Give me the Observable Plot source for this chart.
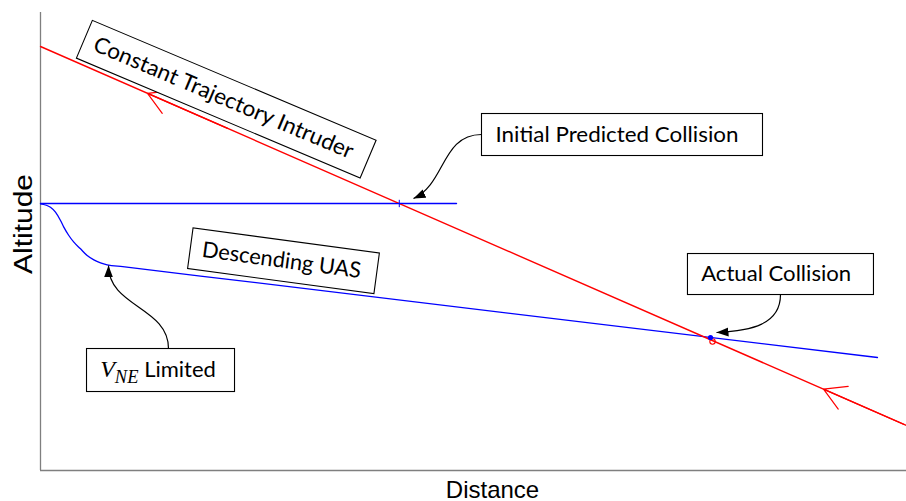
<!DOCTYPE html>
<html><head><meta charset="utf-8">
<script src="https://cdn.jsdelivr.net/npm/d3@7"></script>
<script src="https://cdn.jsdelivr.net/npm/@observablehq/plot@0.6"></script>
<style>html,body{margin:0;padding:0;background:#fff;} svg{display:block;}</style>
</head><body><div id="chart"></div>
<script>
// ---- data (x: distance 0..100, y: altitude 0..100, arbitrary units) ----
const intruderPath = [{x: 0, y: 92.58}, {x: 100, y: 9.83}];
const plannedPath = [{x: 0, y: 58.30}, {x: 48.04, y: 58.30}];
const descentPath = [
  {x: 0, y: 58.23}, {x: 1.15, y: 57.49}, {x: 1.73, y: 56.40}, {x: 2.31, y: 54.59},
  {x: 2.69, y: 53.13}, {x: 3.27, y: 51.31}, {x: 3.85, y: 49.85}, {x: 4.62, y: 48.40},
  {x: 5.39, y: 46.94}, {x: 6.16, y: 46.00}, {x: 6.93, y: 45.35}, {x: 7.70, y: 44.91},
  {x: 9.50, y: 44.50}, {x: 18.48, y: 42.46}, {x: 96.65, y: 24.67}
];
const initialCollision = [{x: 41.43, y: 58.30}];
const actualCollisionUAS = [{x: 77.37, y: 29.04}];
const actualCollisionIntruder = [{x: 77.60, y: 28.17}];
const chevronTipsX = [12.36, 90.42];
const labelTexts = ["Constant Trajectory Intruder", "Initial Predicted Collision", "Descending UAS", "VNE Limited", "Actual Collision"];
const axisLabelX = ["Distance"];
const axisLabelY = ["Altitude"];

// ---- layout for the annotations ----
const annotationLayout = [
  {x: 21.13, y: 81.33, rotate: 22.9, w: 308, h: 41, dx: 3, len: 280},
  {x: 66.57, y: 73.36, rotate: 0, w: 281, h: 42, dx: 5, len: 243},
  {x: 27.83, y: 45.85, rotate: 7.65, w: 188, h: 41, dx: 2, len: 160},
  {x: 13.57, y: 21.94, rotate: 0, w: 148, h: 43, dx: 2.5, len: null},
  {x: 84.95, y: 42.90, rotate: 0, w: 186, h: 41, dx: 4.3, len: 150}
];
const annotations = labelTexts.map((text, i) => ({text, ...annotationLayout[i]}));
const connectors = [
  {x1: 50.92, y1: 73.36, x2: 43.07, y2: 59.39, d0: [-1, 0], h0: 40, d1: [-0.9, 0.4], h1: 35},
  {x1: 14.78, y1: 26.64, x2: 7.85, y2: 44.76, d0: [0, -1], h0: 41.5, d1: [0, -1], h1: 41.5},
  {x1: 85.45, y1: 38.43, x2: 78.06, y2: 30.13, d0: [0, 1], h0: 30, d1: [-1, 0.05], h1: 35}
];

function yOnIntruder(x) {
  const [a, b] = intruderPath;
  return a.y + (b.y - a.y) * (x - a.x) / (b.x - a.x);
}
const chevrons = chevronTipsX.map(x => ({x1: x + 9.24, y1: yOnIntruder(x + 9.24), x2: x, y2: yOnIntruder(x)}));

function norm(v) { const l = Math.hypot(v[0], v[1]); return [v[0] / l, v[1] / l]; }
function connectorCurve(c) {
  const n0 = norm(c.d0), n1 = norm(c.d1);
  return (context) => {
    let pts = [];
    return {
      areaStart() {}, areaEnd() {},
      lineStart() { pts = []; },
      point(x, y) { pts.push([+x, +y]); },
      lineEnd() {
        const a = pts[0], b = pts[pts.length - 1];
        context.moveTo(a[0], a[1]);
        context.bezierCurveTo(a[0] + n0[0] * c.h0, a[1] + n0[1] * c.h0,
                              b[0] - n1[0] * c.h1, b[1] - n1[1] * c.h1, b[0], b[1]);
      }
    };
  };
}

const RED = "#ff0000", BLUE = "#0000ff";
const svg = Plot.plot({
  width: 906, height: 501,
  marginLeft: 40, marginRight: 0, marginTop: 12, marginBottom: 31,
  x: {domain: [0, 100], axis: null},
  y: {domain: [0, 100], axis: null},
  style: {background: "#fff", overflow: "visible"},
  marks: [
    Plot.ruleX([0], {stroke: "#7f7f7f", strokeWidth: 1.3}),
    Plot.ruleY([0], {stroke: "#7f7f7f", strokeWidth: 1.3}),
    Plot.line(plannedPath, {x: "x", y: "y", stroke: BLUE, strokeWidth: 1.3}),
    Plot.line(descentPath, {x: "x", y: "y", stroke: BLUE, strokeWidth: 1.3, curve: "monotone-x"}),
    Plot.line(intruderPath, {x: "x", y: "y", stroke: RED, strokeWidth: 1.4}),
    Plot.arrow(chevrons, {x1: "x1", y1: "y1", x2: "x2", y2: "y2", stroke: RED, strokeWidth: 1.2, headLength: 31, headAngle: 60}),
    Plot.dot(initialCollision, {x: "x", y: "y", symbol: "plus", r: 2.5, stroke: BLUE, strokeWidth: 1}),
    Plot.dot(actualCollisionIntruder, {x: "x", y: "y", r: 2.7, stroke: RED, fill: "none", strokeWidth: 1.1}),
    Plot.dot(actualCollisionUAS, {x: "x", y: "y", r: 2.6, fill: BLUE}),
    ...connectors.map(c => Plot.link([c], {x1: "x1", y1: "y1", x2: "x2", y2: "y2", curve: connectorCurve(c), stroke: "#000", strokeWidth: 1.2})),
    Plot.text(annotations, {x: "x", y: "y", text: "text", rotate: "rotate", fontSize: 22, fontFamily: "Lato", fill: "#000", textAnchor: "middle", lineAnchor: "middle"}),
    Plot.text(axisLabelY, {text: d => d, frameAnchor: "left", rotate: -90, dx: -16.5, dy: -17.5, fontSize: 25, fontFamily: "Liberation Sans, Arial", textAnchor: "middle", lineAnchor: "middle", fill: "#000"}),
    Plot.text(axisLabelX, {text: d => d, frameAnchor: "bottom", dx: 19, dy: 10.5, fontSize: 24, fontFamily: "Liberation Sans, Arial", textAnchor: "middle", lineAnchor: "top", fill: "#000"})
  ]
});
document.getElementById("chart").append(svg);

// ---- decorate annotations: boxes, arrowheads, subscript ----
const ns = "http://www.w3.org/2000/svg";
const defs = document.createElementNS(ns, "defs");
const marker = document.createElementNS(ns, "marker");
marker.setAttribute("id", "ah");
marker.setAttribute("viewBox", "0 0 12 10");
marker.setAttribute("refX", "12"); marker.setAttribute("refY", "5");
marker.setAttribute("markerWidth", "12"); marker.setAttribute("markerHeight", "10");
marker.setAttribute("markerUnits", "userSpaceOnUse");
marker.setAttribute("orient", "auto");
const mp = document.createElementNS(ns, "path");
mp.setAttribute("d", "M0,0.5L12,5L0,9.5Z"); mp.setAttribute("fill", "#000");
marker.append(mp); defs.append(marker); svg.append(defs);
svg.querySelectorAll('g[aria-label="link"] path').forEach(p => p.setAttribute("marker-end", "url(#ah)"));

const allTexts = [...svg.querySelectorAll("text")];
const altText = allTexts.find(el => el.textContent === axisLabelY[0]);
if (altText) { altText.setAttribute("textLength", 100); altText.setAttribute("lengthAdjust", "spacingAndGlyphs"); }

let boxGroup = null;
annotations.forEach(a => {
  const t = allTexts.find(el => el.textContent === a.text);
  if (!t) return;
  const parent = t.parentNode;
  if (!boxGroup) {
    boxGroup = document.createElementNS(ns, "g");
    if (parent.getAttribute("transform")) boxGroup.setAttribute("transform", parent.getAttribute("transform"));
    parent.parentNode.insertBefore(boxGroup, parent);
  }
  const r = document.createElementNS(ns, "rect");
  r.setAttribute("x", -a.w / 2 + a.dx); r.setAttribute("y", -a.h / 2);
  r.setAttribute("width", a.w); r.setAttribute("height", a.h);
  r.setAttribute("fill", "#fff"); r.setAttribute("stroke", "#000"); r.setAttribute("stroke-width", "1.1");
  const tr = t.getAttribute("transform");
  if (tr) r.setAttribute("transform", tr);
  else r.setAttribute("transform", `translate(${t.getAttribute("x") || 0},${t.getAttribute("y") || 0})`);
  boxGroup.append(r);
  if (a.len) { t.setAttribute("textLength", a.len); t.setAttribute("lengthAdjust", "spacingAndGlyphs"); }
  if (a.text === "VNE Limited") {
    t.textContent = "";
    const s1 = document.createElementNS(ns, "tspan");
    s1.setAttribute("font-family", "Liberation Serif, serif"); s1.setAttribute("font-style", "italic"); s1.setAttribute("font-size", "24");
    s1.textContent = "V";
    const s2 = document.createElementNS(ns, "tspan");
    s2.setAttribute("font-family", "Liberation Serif, serif"); s2.setAttribute("font-style", "italic"); s2.setAttribute("font-size", "18.5");
    s2.setAttribute("dy", "6"); s2.textContent = "NE";
    const s3 = document.createElementNS(ns, "tspan");
    s3.setAttribute("dy", "-6"); s3.textContent = " Limited";
    t.append(s1, s2, s3);
  }
});
</script>
</body></html>
